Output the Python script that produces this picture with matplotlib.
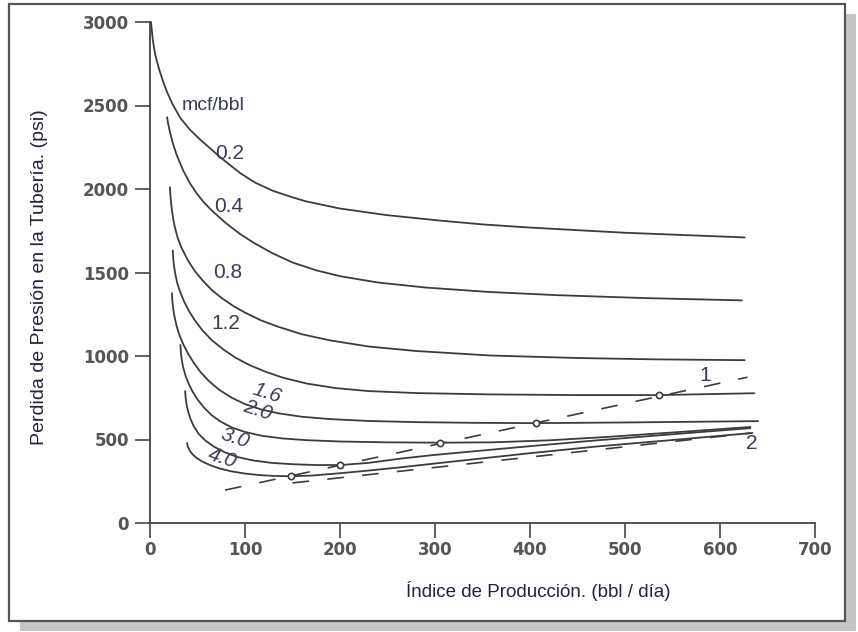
import matplotlib
matplotlib.use("Agg")
import matplotlib.pyplot as plt
from matplotlib.patches import Rectangle

# ---------------- data ----------------
x_02 = [1, 2, 3, 5, 7, 10, 14, 18, 24, 32, 42, 52, 60, 75, 95, 110, 129, 150, 165, 200, 250, 305, 350, 400, 500, 626]
y_02 = [3000, 2945, 2890, 2820, 2770, 2710, 2640, 2580, 2505, 2425, 2355, 2300, 2260, 2185, 2095, 2040, 1990, 1950, 1925, 1883, 1843, 1811, 1788, 1769, 1738, 1710]

x_04 = [18, 19, 21, 24, 28, 35, 42, 49, 57, 66, 80, 95, 110, 129, 150, 175, 200, 240, 290, 358, 430, 520, 623]
y_04 = [2430, 2395, 2340, 2275, 2205, 2110, 2035, 1975, 1918, 1866, 1795, 1730, 1675, 1615, 1560, 1513, 1478, 1440, 1410, 1383, 1364, 1347, 1333]

x_08 = [21, 21.5, 22.5, 24, 26, 29, 33, 40, 47, 55, 65, 76, 88, 100, 117, 135, 160, 190, 230, 280, 358, 450, 530, 626]
y_08 = [2010, 1960, 1900, 1835, 1775, 1710, 1650, 1572, 1510, 1455, 1395, 1345, 1298, 1260, 1213, 1175, 1130, 1093, 1057, 1030, 1003, 988, 980, 975]

x_12 = [24, 24.5, 25.5, 27, 29, 32, 36, 41, 47, 55, 65, 77, 90, 105, 122, 140, 165, 195, 230, 280, 358, 450, 536, 636]
y_12 = [1632, 1580, 1530, 1480, 1430, 1380, 1325, 1270, 1215, 1155, 1095, 1040, 990, 945, 905, 870, 835, 808, 790, 778, 770, 766, 766, 777]

x_16 = [23, 23.5, 24.5, 26, 28, 31, 35, 40, 46, 53, 62, 73, 86, 100, 117, 135, 160, 190, 230, 280, 340, 406, 500, 640]
y_16 = [1377, 1330, 1280, 1230, 1180, 1125, 1070, 1015, 960, 905, 850, 797, 750, 712, 680, 657, 636, 622, 611, 604, 600, 598, 602, 610]

x_20 = [32, 32.5, 33.5, 35, 37.5, 41, 45, 50, 57, 65, 75, 87, 100, 118, 140, 165, 200, 250, 305, 360, 420, 480, 550, 632]
y_20 = [1066, 1020, 975, 930, 880, 830, 785, 740, 690, 645, 605, 570, 545, 522, 506, 496, 488, 483, 481, 483, 495, 515, 542, 575]

x_30 = [37, 37.5, 38.5, 40, 42.5, 46, 51, 58, 67, 78, 92, 108, 128, 150, 175, 200, 230, 263, 300, 350, 400, 460, 540, 632]
y_30 = [790, 750, 710, 670, 625, 580, 535, 495, 458, 425, 395, 375, 360, 352, 347, 347, 360, 385, 408, 434, 460, 490, 527, 568]

x_40 = [39, 40, 42, 45, 49, 55, 63, 73, 85, 100, 115, 130, 148, 170, 200, 230, 263, 330, 400, 470, 550, 632]
y_40 = [479, 455, 432, 410, 390, 368, 347, 327, 310, 296, 287, 282, 280, 284, 298, 314, 333, 375, 418, 458, 497, 538]

# dashed reference lines 1 and 2
line1_x = [79, 629]
line1_y = [197, 873]
line2_x = [150, 635]
line2_y = [240, 540]

# open circles (points on line 1)
circ_x = [148, 200, 305, 406, 536]
circ_y = [280, 347, 481, 598, 766]

curve_names = ["0.2", "0.4", "0.8", "1.2", "1.6", "2.0", "3.0", "4.0"]
label_x = [84, 83, 82, 80, 123, 113, 89, 76]
label_y = [2212, 1895, 1500, 1195, 777, 675, 508, 389]
label_rot = [0, 0, 0, 0, -18, -18, -18, -18]

x_ticks = [0, 100, 200, 300, 400, 500, 600, 700]
y_ticks = [0, 500, 1000, 1500, 2000, 2500, 3000]

# ---------------- figure ----------------
fig = plt.figure(figsize=(8.58, 6.32), dpi=100)
W, H = 858.0, 632.0
# shadow and frame
fig.patches.append(Rectangle((20 / W, 1 / H), 836 / W, 617 / H, transform=fig.transFigure,
                             facecolor="#c6c6c6", edgecolor="none", zorder=-3))
fig.patches.append(Rectangle((9 / W, 11 / H), 836 / W, 617 / H, transform=fig.transFigure,
                             facecolor="white", edgecolor="#555555", linewidth=1.6, zorder=-2))

ax = fig.add_axes([150 / W, 109 / H, 665 / W, 501 / H])
ax.set_facecolor("none")
ax.set_xlim(0, 700)
ax.set_ylim(0, 3000)

line_col = "#3c3c3c"
curves = [(x_02, y_02), (x_04, y_04), (x_08, y_08), (x_12, y_12),
          (x_16, y_16), (x_20, y_20), (x_30, y_30), (x_40, y_40)]
for cx, cy in curves:
    ax.plot(cx, cy, color=line_col, lw=1.3, solid_joinstyle="round",
            solid_capstyle="round", clip_on=False)

ax.plot(line1_x, line1_y, color=line_col, lw=1.2, dashes=(10, 11))
ax.plot(line2_x, line2_y, color=line_col, lw=1.2, dashes=(10, 11))
ax.plot(circ_x, circ_y, linestyle="none", marker="o", ms=4.5, mfc="white",
        mec=line_col, mew=1.2, zorder=5)

lab_col = "#3a3d52"
lab_font = "Liberation Sans"
for name, lx, ly, rot in zip(curve_names, label_x, label_y, label_rot):
    ax.text(lx, ly, name, fontsize=15, color=lab_col, family=lab_font,
            ha="center", va="center", rotation=rot,
            style="italic" if rot else "normal")
ax.text(66, 2498, "mcf/bbl", fontsize=14, color=lab_col, family=lab_font,
        ha="center", va="center")
ax.text(584, 885, "1", fontsize=15, color=lab_col, family=lab_font,
        ha="center", va="center")
ax.text(633, 478, "2", fontsize=15, color=lab_col, family=lab_font,
        ha="center", va="center")

# axes styling
for s in ["top", "right"]:
    ax.spines[s].set_visible(False)
for s in ["left", "bottom"]:
    ax.spines[s].set_color("#444444")
    ax.spines[s].set_linewidth(1.3)
ax.set_xticks(x_ticks)
ax.set_yticks(y_ticks)
ax.tick_params(axis="both", direction="out", length=11, width=1.2, color="#444444",
               labelcolor="#555555")
ax.tick_params(axis="x", pad=2)
ax.tick_params(axis="y", pad=4)
for t in ax.get_xticklabels() + ax.get_yticklabels():
    t.set_fontfamily("DejaVu Sans")
    t.set_fontweight("bold")
    t.set_fontsize(12)

ax.set_xlabel("Índice de Producción. (bbl / día)", fontsize=13.5, color="#2a1f3d",
              family=lab_font)
ax.set_ylabel("Perdida de Presión en la Tubería. (psi)", fontsize=14, color="#2a1f3d",
              family=lab_font)
ax.xaxis.set_label_coords((538 - 150) / 665, -(581 - 523) / 501)
ax.yaxis.set_label_coords(-(150 - 48) / 665, (523 - 277) / 501)

fig.savefig("out.png", dpi=100)
